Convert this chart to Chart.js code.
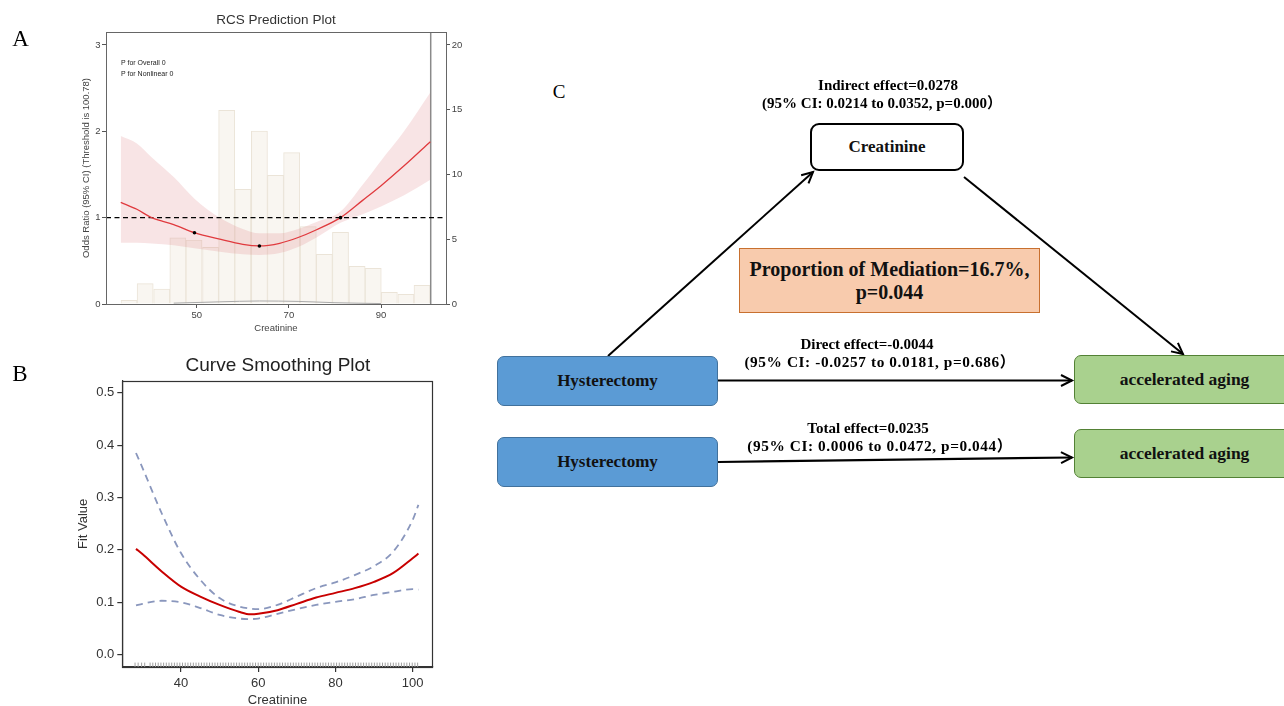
<!DOCTYPE html>
<html>
<head>
<meta charset="utf-8">
<script src="https://cdn.jsdelivr.net/npm/chart.js@4.4.1/dist/chart.umd.min.js"></script>
<style>
  body{margin:0;width:1284px;height:706px;overflow:hidden;background:#fff;position:relative}
  .t{position:absolute;transform:translate(-50%,-50%);white-space:nowrap;line-height:1}
  .sans{font-family:"Liberation Sans",Arial,sans-serif}
  .serif{font-family:"Liberation Serif","Times New Roman","Noto Sans CJK SC",serif}
  .b{font-weight:bold}
  .wide{font-size:15.3px;letter-spacing:0.6px}
  .box{position:absolute;box-sizing:border-box;display:flex;align-items:center;justify-content:center;
       font-family:"Liberation Serif","Times New Roman",serif;font-weight:bold;color:#111;white-space:nowrap}
  #wa{position:absolute;left:0;top:0}
  #wb{position:absolute;left:0;top:340px}
</style>
</head>
<body>
<div id="wa"><canvas id="chA" width="470" height="340"></canvas></div>
<div id="wb"><canvas id="chB" width="440" height="376"></canvas></div>

<div class="t serif" style="left:20.5px;top:37.5px;font-size:23px">A</div>
<div class="t serif" style="left:20px;top:373px;font-size:23px">B</div>
<div class="t serif" style="left:559px;top:90.5px;font-size:19px">C</div>

<div class="t sans" style="left:276px;top:20px;font-size:13.5px;color:#333">RCS Prediction Plot</div>
<div class="sans" style="position:absolute;left:121px;top:59px;font-size:7px;line-height:1;color:#222">P for Overall 0</div>
<div class="sans" style="position:absolute;left:121px;top:70px;font-size:7px;line-height:1;color:#222">P for Nonlinear 0</div>
<div class="t sans" style="left:278px;top:364px;font-size:19px;color:#222">Curve Smoothing Plot</div>

<svg width="1284" height="706" style="position:absolute;left:0;top:0">
  <defs>
    <marker id="ah" markerUnits="userSpaceOnUse" markerWidth="16" markerHeight="16" refX="12" refY="7" orient="auto">
      <path d="M1,1.5 L12,7 L1,12.5" fill="none" stroke="#000" stroke-width="2"/>
    </marker>
  </defs>
  <line x1="608" y1="356" x2="813" y2="172" stroke="#000" stroke-width="2" marker-end="url(#ah)"/>
  <line x1="964" y1="177" x2="1183" y2="354" stroke="#000" stroke-width="2" marker-end="url(#ah)"/>
  <line x1="718" y1="380.5" x2="1072" y2="380.5" stroke="#000" stroke-width="2.2" marker-end="url(#ah)"/>
  <line x1="718" y1="462" x2="1072" y2="457.5" stroke="#000" stroke-width="2.2" marker-end="url(#ah)"/>
</svg>

<div class="t serif b" style="left:888px;top:85px;font-size:15px">Indirect effect=0.0278</div>
<div class="t serif b" style="left:882px;top:103px;font-size:15px">(95% CI: 0.0214 to 0.0352, p=0.000）</div>
<div class="t serif b" style="left:867px;top:344px;font-size:15px">Direct effect=-0.0044</div>
<div class="t serif b wide" style="left:880px;top:362px">(95% CI: -0.0257 to 0.0181, p=0.686）</div>
<div class="t serif b" style="left:868px;top:428px;font-size:15px">Total effect=0.0235</div>
<div class="t serif b wide" style="left:880px;top:446px">(95% CI: 0.0006 to 0.0472, p=0.044）</div>

<div class="box" style="left:810px;top:123px;width:154px;height:48px;border:2px solid #000;border-radius:9px;background:#fff;font-size:17px">Creatinine</div>
<div class="box" style="left:739px;top:248px;width:301px;height:65px;border:1.5px solid #c8702f;background:#f8cbad;font-size:20px;flex-direction:column;line-height:23px"><div>Proportion of Mediation=16.7%,</div><div>p=0.044</div></div>
<div class="box" style="left:497px;top:356px;width:221px;height:50px;border:1px solid #41719c;border-radius:7px;background:#5b9bd5;font-size:17px">Hysterectomy</div>
<div class="box" style="left:497px;top:437px;width:221px;height:50px;border:1px solid #41719c;border-radius:7px;background:#5b9bd5;font-size:17px">Hysterectomy</div>
<div class="box" style="left:1074px;top:355px;width:221px;height:49px;border:1px solid #538135;border-radius:7px;background:#a9d18e;font-size:17.5px">accelerated aging</div>
<div class="box" style="left:1074px;top:429px;width:221px;height:49px;border:1px solid #538135;border-radius:7px;background:#a9d18e;font-size:17.5px">accelerated aging</div>

<script>
// ---- panel A: RCS prediction ----
const rcsX   = [33.5, 37, 40.2, 45, 49.5, 55, 60, 63.6, 68, 72, 76, 81.2, 86, 90, 95, 100.7];
const rcsOR  = [1.178, 1.097, 1.0, 0.92, 0.826, 0.75, 0.69, 0.672, 0.703, 0.77, 0.86, 1.0, 1.2, 1.37, 1.6, 1.88];
const rcsUp  = [1.946, 1.86, 1.70, 1.47, 1.22, 1.0, 0.87, 0.82, 0.82, 0.87, 0.95, 1.07, 1.38, 1.66, 2.0, 2.45];
const rcsLo  = [0.71, 0.71, 0.70, 0.68, 0.645, 0.605, 0.575, 0.568, 0.59, 0.66, 0.77, 0.94, 1.04, 1.13, 1.26, 1.44];
const knotX  = [49.5, 63.6, 81.2];
const knotOR = [0.826, 0.672, 1.0];
const binMid = [35.3, 38.8, 42.4, 45.9, 49.4, 53.0, 56.5, 60.0, 63.6, 67.1, 70.6, 74.2, 77.7, 81.2, 84.8, 88.3, 91.8, 95.4, 98.9];
const binCnt = [0.28, 1.57, 1.16, 5.1, 4.94, 4.38, 14.96, 8.85, 13.36, 9.94, 11.69, 5.97, 3.84, 5.53, 2.91, 2.75, 0.9, 0.75, 1.44];
const densX  = [45, 55, 63.6, 72, 80, 90];
const densY  = [0.01, 0.025, 0.035, 0.03, 0.015, 0.005];
const threshold = 100.78;
const xTicksA = [50, 70, 90];
const yTicksA = [0, 1, 2, 3];
const y2TicksA = [0, 5, 10, 15, 20];

// ---- panel B: curve smoothing ----
const fitX  = [28.35, 30, 35, 40, 45, 50, 55, 58, 60, 65, 70, 75, 80, 85, 90, 95, 100, 101.5];
const fitY  = [0.202, 0.192, 0.159, 0.13, 0.111, 0.095, 0.082, 0.077, 0.078, 0.085, 0.097, 0.109, 0.118, 0.127, 0.139, 0.156, 0.184, 0.193];
const fitUp = [0.385, 0.357, 0.27, 0.194, 0.143, 0.108, 0.092, 0.088, 0.087, 0.095, 0.111, 0.127, 0.138, 0.152, 0.169, 0.197, 0.257, 0.286];
const fitLo = [0.094, 0.097, 0.103, 0.1, 0.089, 0.076, 0.069, 0.068, 0.069, 0.078, 0.087, 0.095, 0.101, 0.106, 0.114, 0.12, 0.125, 0.124];
const rugX = [28.1, 28.9, 29.8, 30.6,
  32.0, 32.7, 33.4, 34.1, 34.8, 35.5, 36.2, 36.9, 37.6, 38.3, 39.0, 39.7, 40.4, 41.1, 41.8, 42.5,
  43.2, 43.9, 44.6, 45.3, 46.0, 46.7, 47.4, 48.1, 48.8, 49.5, 50.2, 50.9, 51.6, 52.3, 53.0, 53.7,
  54.4, 55.1, 55.8, 56.5, 57.2, 57.9, 58.6, 59.3, 60.0, 60.7, 61.4, 62.1, 62.8, 63.5, 64.2, 64.9,
  65.6, 66.3, 67.0, 67.7, 68.4, 69.1, 69.8, 70.5, 71.2, 71.9, 72.6, 73.3, 74.0, 74.7, 75.4, 76.1,
  76.8, 77.5, 78.2, 78.9, 79.6, 80.3, 81.0, 81.7, 82.4, 83.1, 83.8, 84.5, 85.2, 85.9, 86.6, 87.3,
  88.0, 88.7, 89.4, 90.1, 90.8, 91.5, 92.2, 92.9, 93.6, 94.3, 95.0, 95.7, 96.4, 97.1, 97.8, 98.5,
  99.2, 99.9, 100.6, 101.3];
const xTicksB = [40, 60, 80, 100];
const yTicksB = [0, 0.1, 0.2, 0.3, 0.4, 0.5];

const pts = (xs, ys) => xs.map((x, i) => ({x, y: ys[i]}));
const setTicks = arr => s => { s.ticks = arr.map(v => ({value: v})); };

const frame = {
  id: 'frame',
  afterDatasetsDraw(c, a, o) {
    const {left, top, right, bottom} = c.chartArea, ctx = c.ctx;
    ctx.save(); ctx.strokeStyle = o.color; ctx.lineWidth = o.width;
    ctx.strokeRect(Math.round(left) + 0.5, Math.round(top) + 0.5, Math.round(right - left), Math.round(bottom - top));
    ctx.restore();
  }
};

const fA = {family: '"Liberation Sans", Arial, sans-serif', size: 9.5};
const gA = {drawOnChartArea: false, tickLength: 4, color: '#555', offset: false};

new Chart(document.getElementById('chA'), {
  type: 'scatter',
  data: {datasets: [
    {data: pts(knotX, knotOR), pointRadius: 1.8, pointBackgroundColor: '#000', pointBorderWidth: 0, showLine: false, order: 0},
    {data: pts(rcsX, rcsOR), showLine: true, borderColor: '#e03a3e', borderWidth: 1.3, pointRadius: 0, cubicInterpolationMode: 'monotone', order: 1},
    {data: [{x: 30.3, y: 1}, {x: 104.1, y: 1}], showLine: true, borderColor: '#000', borderWidth: 1.3, borderDash: [5, 3.5], pointRadius: 0, order: 2},
    {data: pts(rcsX, rcsUp), showLine: true, borderWidth: 0, pointRadius: 0, cubicInterpolationMode: 'monotone', fill: '+1', backgroundColor: 'rgba(222,120,125,0.2)', order: 3},
    {data: pts(rcsX, rcsLo), showLine: true, borderWidth: 0, pointRadius: 0, cubicInterpolationMode: 'monotone', order: 4},
    {data: [{x: threshold, y: 0}, {x: threshold, y: 3.15}], showLine: true, borderColor: '#8a8a8a', borderWidth: 1.5, pointRadius: 0, order: 5},
    {data: pts(densX, densY), showLine: true, borderColor: '#aaa', borderWidth: 1, pointRadius: 0, cubicInterpolationMode: 'monotone', order: 6},
    {type: 'bar', yAxisID: 'y2', data: pts(binMid, binCnt), backgroundColor: '#f9f6f1', borderColor: '#ebe4d8', borderWidth: 1,
     barPercentage: 1, categoryPercentage: 1, order: 7}
  ]},
  options: {
    responsive: false, animation: false,
    layout: {padding: {top: 32, left: 0, right: 0, bottom: 0}},
    plugins: {legend: {display: false}, tooltip: {enabled: false}, frame: {color: '#666', width: 1}},
    scales: {
      x: {type: 'linear', offset: false, min: 30.3, max: 104.1, afterBuildTicks: setTicks(xTicksA), afterFit: s => { s.height = 36; },
          ticks: {font: fA, color: '#444', padding: 2, maxRotation: 0}, grid: gA, border: {color: '#555'},
          title: {display: true, text: 'Creatinine', font: fA, color: '#444', padding: {top: 0, bottom: 6.3}}},
      y: {min: 0, max: 3.15, afterBuildTicks: setTicks(yTicksA), afterFit: s => { s.width = 106; },
          ticks: {font: fA, color: '#444', padding: 1.5}, grid: gA, border: {color: '#555'},
          title: {display: true, text: 'Odds Ratio (95% CI) (Threshold is 100.78)', font: {family: fA.family, size: 9.5}, color: '#444', padding: {top: 80.3, bottom: 0}}},
      y2: {position: 'right', min: 0, max: 21, afterBuildTicks: setTicks(y2TicksA), afterFit: s => { s.width = 24; },
          ticks: {font: fA, color: '#444', padding: 1.7}, grid: gA, border: {color: '#555'}}
    }
  },
  plugins: [frame]
});

const fB = {family: '"Liberation Sans", Arial, sans-serif', size: 13};
const gB = {drawOnChartArea: false, tickLength: 5, color: '#333', lineWidth: 1.2};

new Chart(document.getElementById('chB'), {
  type: 'scatter',
  data: {datasets: [
    {data: pts(fitX, fitY), showLine: true, borderColor: '#c80000', borderWidth: 2, pointRadius: 0, cubicInterpolationMode: 'monotone', order: 0},
    {data: pts(fitX, fitUp), showLine: true, borderColor: '#8a97bd', borderWidth: 1.8, borderDash: [7, 5], pointRadius: 0, cubicInterpolationMode: 'monotone', order: 1},
    {data: pts(fitX, fitLo), showLine: true, borderColor: '#8a97bd', borderWidth: 1.8, borderDash: [7, 5], pointRadius: 0, cubicInterpolationMode: 'monotone', order: 2},
    {data: rugX.map(x => ({x, y: -0.0195})), pointStyle: 'line', rotation: 90, pointRadius: 2.3, borderColor: '#a0a0a0', pointBorderWidth: 1, order: 3}
  ]},
  options: {
    responsive: false, animation: false,
    layout: {padding: {top: 40.7, left: 0, right: 7.3, bottom: 0}},
    plugins: {legend: {display: false}, tooltip: {enabled: false}, frame: {color: '#333', width: 1.2}},
    scales: {
      x: {type: 'linear', min: 24.8, max: 105.2, afterBuildTicks: setTicks(xTicksB), afterFit: s => { s.height = 49; },
          ticks: {font: fB, color: '#333', padding: 4, maxRotation: 0}, grid: gB, border: {color: '#333', width: 1.2},
          title: {display: true, text: 'Creatinine', font: fB, color: '#333', padding: {top: 0, bottom: 7.5}}},
      y: {min: -0.0235, max: 0.523, afterBuildTicks: setTicks(yTicksB), afterFit: s => { s.width = 122.3; },
          ticks: {font: fB, color: '#333', padding: 3, callback: v => v.toFixed(1)}, grid: gB, border: {color: '#333', width: 1.2},
          title: {display: true, text: 'Fit Value', font: fB, color: '#333', padding: {top: 75.2, bottom: 0}}}
    }
  },
  plugins: [frame]
});
</script>
</body>
</html>
